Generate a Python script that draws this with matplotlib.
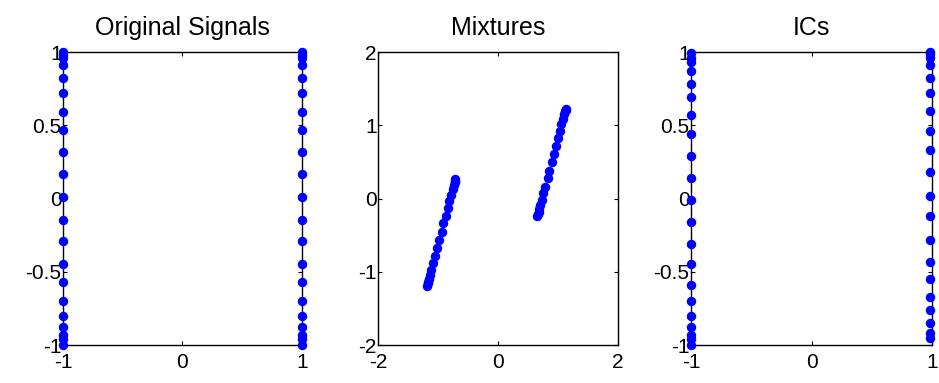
import matplotlib
matplotlib.use("Agg")
import matplotlib.pyplot as plt

plt.rcParams['font.family'] = ['Liberation Sans', 'DejaVu Sans']
plt.rcParams['axes.unicode_minus'] = False

# original signals: square wave (+-1) against sine samples
orig_s2 = [1.0, 0.98, 0.96, 0.91, 0.82, 0.72, 0.59, 0.47, 0.32, 0.17, 0.01,
           -0.15, -0.29, -0.45, -0.57, -0.70, -0.80, -0.88, -0.93, -0.96, -1.0]
orig_left_x = [-1.0] * len(orig_s2)
orig_right_x = [1.0] * len(orig_s2)

# mixtures, two clusters
mix_left_x = [-0.71, -0.72, -0.72, -0.73, -0.75, -0.78, -0.81, -0.84, -0.87, -0.91, -0.94,
              -0.98, -1.01, -1.05, -1.08, -1.11, -1.13, -1.15, -1.16, -1.17, -1.18]
mix_left_y = [0.26, 0.24, 0.23, 0.19, 0.13, 0.05, -0.04, -0.13, -0.24, -0.34, -0.46,
              -0.57, -0.67, -0.79, -0.88, -0.97, -1.04, -1.10, -1.14, -1.16, -1.19]
mix_right_x = [1.13, 1.13, 1.12, 1.11, 1.09, 1.06, 1.03, 1.01, 0.97, 0.94, 0.90,
               0.86, 0.83, 0.79, 0.76, 0.73, 0.71, 0.69, 0.68, 0.67, 0.66]
mix_right_y = [1.22, 1.21, 1.19, 1.15, 1.09, 1.02, 0.92, 0.83, 0.72, 0.61, 0.50,
               0.38, 0.28, 0.16, 0.07, -0.02, -0.09, -0.15, -0.19, -0.21, -0.24]

# recovered components
ic_left_y = [0.99, 0.96, 0.93, 0.87, 0.78, 0.69, 0.57, 0.44, 0.29, 0.14, -0.01,
             -0.16, -0.31, -0.45, -0.59, -0.70, -0.80, -0.88, -0.93, -0.96, -1.0]
ic_left_x = [-1.0] * len(ic_left_y)
ic_right_y = [1.0, 0.985, 0.96, 0.91, 0.82, 0.72, 0.60, 0.46, 0.33, 0.18, 0.02,
              -0.12, -0.28, -0.43, -0.55, -0.67, -0.76, -0.85, -0.92, -0.95]
ic_right_x = [0.98] * len(ic_right_y)

fig = plt.figure(figsize=(9.39, 3.83), dpi=100)

def setup(ax, title, lim, xticks, yticks, yticklabels):
    ax.set_xlim(lim)
    ax.set_ylim(lim)
    ax.set_xticks(xticks)
    ax.set_yticks(yticks)
    ax.set_xticklabels([str(t) for t in xticks])
    ax.set_yticklabels(yticklabels)
    ax.tick_params(direction='in', length=3, width=0.8, labelsize=15,
                   top=True, right=True)
    ax.tick_params(axis='x', pad=6)
    ax.tick_params(axis='y', pad=1)
    for s in ax.spines.values():
        s.set_linewidth(1.0)
    ax.set_title(title, fontsize=18, pad=12)

mk = dict(ls='none', marker='o', color='#0000ff', markersize=5.8, clip_on=False, zorder=3)

ax1 = fig.add_axes([0.0671, 0.0992, 0.2545, 0.765])
setup(ax1, 'Original Signals', (-1, 1), [-1, 0, 1], [-1, -0.5, 0, 0.5, 1],
      ['-1', '-0.5', '0', '0.5', '1'])
ax1.plot(orig_left_x, orig_s2, **mk)
ax1.plot(orig_right_x, orig_s2, **mk)

ax2 = fig.add_axes([0.4026, 0.0992, 0.2553, 0.765])
setup(ax2, 'Mixtures', (-2, 2), [-2, 0, 2], [-2, -1, 0, 1, 2],
      ['-2', '-1', '0', '1', '2'])
ax2.plot(mix_left_x, mix_left_y, **mk)
ax2.plot(mix_right_x, mix_right_y, **mk)

ax3 = fig.add_axes([0.7359, 0.0992, 0.2567, 0.765])
setup(ax3, 'ICs', (-1, 1), [-1, 0, 1], [-1, -0.5, 0, 0.5, 1],
      ['-1', '-0.5', '0', '0.5', '1'])
ax3.plot(ic_left_x, ic_left_y, **mk)
ax3.plot(ic_right_x, ic_right_y, **mk)

fig.savefig("out.png", dpi=100)
plt.close(fig)
